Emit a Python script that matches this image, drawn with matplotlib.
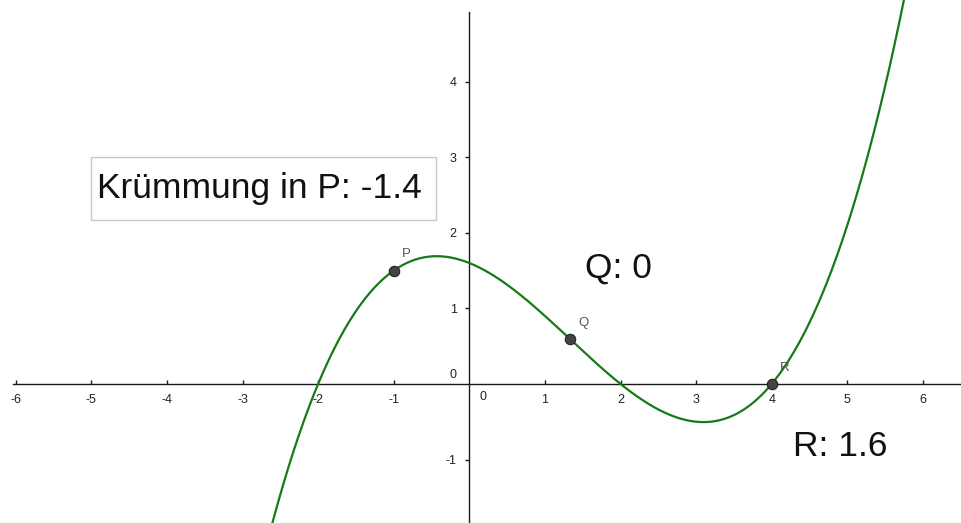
import numpy as np
import matplotlib
matplotlib.use("Agg")
import matplotlib.pyplot as plt
from matplotlib.patches import Rectangle

plt.rcParams["font.family"] = ["Liberation Sans", "DejaVu Sans"]
plt.rcParams["axes.unicode_minus"] = False

# f(x) = 0.1 (x + 2)(x - 2)(x - 4) = 0.1x^3 - 0.4x^2 - 0.4x + 1.6
coeffs = [0.1, -0.4, -0.4, 1.6]
point_names = ["P", "Q", "R"]
point_x = [-1.0, 4.0 / 3.0, 4.0]
curvature_P = -1.4
value_Q = 0
value_R = 1.6
x_ticks = [-6, -5, -4, -3, -2, -1, 1, 2, 3, 4, 5, 6]
y_ticks = [-1, 1, 2, 3, 4]

f = np.poly1d(coeffs)

fig = plt.figure(figsize=(9.61, 5.23), dpi=100)
ax = fig.add_axes([0, 0, 1, 1])
ax.set_xlim(-6.208, 6.504)
ax.set_ylim(-1.84, 5.08)

# coordinate axes through the origin
for side in ("top", "right"):
    ax.spines[side].set_visible(False)
ax.spines["bottom"].set_position(("data", 0))
ax.spines["left"].set_position(("data", 0))
ax.spines["bottom"].set_bounds(-6.04, 6.504)
ax.spines["left"].set_bounds(-1.84, 4.92)
for side in ("bottom", "left"):
    ax.spines[side].set_color("#1a1a1a")
    ax.spines[side].set_linewidth(1.0)

ax.set_xticks(x_ticks)
ax.set_xticklabels([str(t) for t in x_ticks])
ax.set_yticks(y_ticks)
ax.set_yticklabels([str(t) for t in y_ticks])
ax.tick_params(axis="x", direction="in", length=3, width=1, color="#1a1a1a",
               labelsize=9, labelcolor="#222222", pad=7)
ax.tick_params(axis="y", direction="out", length=3, width=1, color="#1a1a1a",
               labelsize=9, labelcolor="#222222", pad=6)
ax.text(0.18, -0.17, "0", fontsize=9, color="#222222", ha="center", va="center")
ax.text(-0.22, 0.12, "0", fontsize=9, color="#222222", ha="center", va="center")

# function graph
xs = np.linspace(-3.0, 6.2, 800)
ax.plot(xs, f(xs), color="#167a16", lw=1.6, zorder=3)

# points on the graph
px = np.array(point_x)
py = f(px)
ax.plot(px, py, "o", ms=7.5, mfc="#444444", mec="#222222", mew=0.8, zorder=4)
for name, x0, y0 in zip(point_names, px, py):
    ax.annotate(name, (x0, y0), xytext=(6, 7.5), textcoords="offset points",
                fontsize=9.5, color="#555555", ha="left", va="bottom")

# text boxes with f'' values
ax.add_patch(Rectangle((-5.0, 2.17), 4.56, 0.83, fill=False, ec="#c8c8c8", lw=1.0, zorder=2))
ax.text(-4.93, 2.585, f"Krümmung in P: {curvature_P}", fontsize=25.5, color="#111111",
        ha="left", va="center")
ax.text(1.53, 1.535, f"Q: {value_Q}", fontsize=25.5, color="#111111", ha="left", va="center")
ax.text(4.28, -0.83, f"R: {value_R}", fontsize=25.5, color="#111111", ha="left", va="center")

fig.savefig("out.png", dpi=100)
